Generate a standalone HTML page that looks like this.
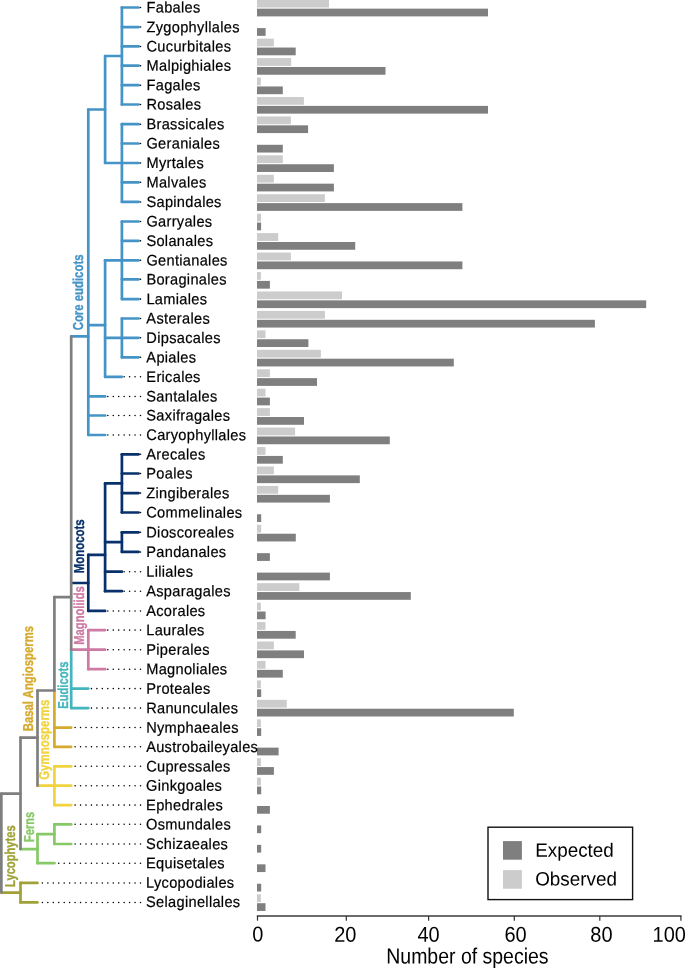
<!DOCTYPE html>
<html><head><meta charset="utf-8"><style>
html,body{margin:0;padding:0;background:#fff;}
svg{display:block;will-change:transform;}
text{font-family:"Liberation Sans",sans-serif;}
</style></head><body>
<svg width="685" height="968" viewBox="0 0 685 968">
<g id="bars">
<rect x="257.0" y="-0.25" width="72.00" height="7.8" fill="#cccccc"/>
<rect x="257.0" y="8.65" width="231.00" height="7.75" fill="#7f7f7f"/>
<rect x="257.0" y="28.10" width="8.60" height="7.75" fill="#7f7f7f"/>
<rect x="257.0" y="38.64" width="16.90" height="7.8" fill="#cccccc"/>
<rect x="257.0" y="47.54" width="38.70" height="7.75" fill="#7f7f7f"/>
<rect x="257.0" y="58.09" width="34.20" height="7.8" fill="#cccccc"/>
<rect x="257.0" y="66.99" width="128.50" height="7.75" fill="#7f7f7f"/>
<rect x="257.0" y="77.54" width="3.80" height="7.8" fill="#cccccc"/>
<rect x="257.0" y="86.44" width="25.80" height="7.75" fill="#7f7f7f"/>
<rect x="257.0" y="96.98" width="46.90" height="7.8" fill="#cccccc"/>
<rect x="257.0" y="105.89" width="231.00" height="7.75" fill="#7f7f7f"/>
<rect x="257.0" y="116.43" width="33.90" height="7.8" fill="#cccccc"/>
<rect x="257.0" y="125.33" width="51.10" height="7.75" fill="#7f7f7f"/>
<rect x="257.0" y="144.78" width="25.80" height="7.75" fill="#7f7f7f"/>
<rect x="257.0" y="155.33" width="25.80" height="7.8" fill="#cccccc"/>
<rect x="257.0" y="164.23" width="76.90" height="7.75" fill="#7f7f7f"/>
<rect x="257.0" y="174.77" width="16.90" height="7.8" fill="#cccccc"/>
<rect x="257.0" y="183.67" width="76.90" height="7.75" fill="#7f7f7f"/>
<rect x="257.0" y="194.22" width="67.90" height="7.8" fill="#cccccc"/>
<rect x="257.0" y="203.12" width="205.40" height="7.75" fill="#7f7f7f"/>
<rect x="257.0" y="213.67" width="4.10" height="7.8" fill="#cccccc"/>
<rect x="257.0" y="222.57" width="4.10" height="7.75" fill="#7f7f7f"/>
<rect x="257.0" y="233.11" width="21.20" height="7.8" fill="#cccccc"/>
<rect x="257.0" y="242.01" width="98.20" height="7.75" fill="#7f7f7f"/>
<rect x="257.0" y="252.56" width="33.90" height="7.8" fill="#cccccc"/>
<rect x="257.0" y="261.46" width="205.40" height="7.75" fill="#7f7f7f"/>
<rect x="257.0" y="272.01" width="3.90" height="7.8" fill="#cccccc"/>
<rect x="257.0" y="280.91" width="12.90" height="7.75" fill="#7f7f7f"/>
<rect x="257.0" y="291.45" width="85.00" height="7.8" fill="#cccccc"/>
<rect x="257.0" y="300.35" width="389.20" height="7.75" fill="#7f7f7f"/>
<rect x="257.0" y="310.90" width="67.90" height="7.8" fill="#cccccc"/>
<rect x="257.0" y="319.80" width="337.90" height="7.75" fill="#7f7f7f"/>
<rect x="257.0" y="330.35" width="8.50" height="7.8" fill="#cccccc"/>
<rect x="257.0" y="339.25" width="51.40" height="7.75" fill="#7f7f7f"/>
<rect x="257.0" y="349.80" width="63.90" height="7.8" fill="#cccccc"/>
<rect x="257.0" y="358.70" width="196.80" height="7.75" fill="#7f7f7f"/>
<rect x="257.0" y="369.24" width="12.90" height="7.8" fill="#cccccc"/>
<rect x="257.0" y="378.14" width="60.00" height="7.75" fill="#7f7f7f"/>
<rect x="257.0" y="388.69" width="8.50" height="7.8" fill="#cccccc"/>
<rect x="257.0" y="397.59" width="12.90" height="7.75" fill="#7f7f7f"/>
<rect x="257.0" y="408.14" width="12.90" height="7.8" fill="#cccccc"/>
<rect x="257.0" y="417.04" width="47.00" height="7.75" fill="#7f7f7f"/>
<rect x="257.0" y="427.58" width="38.10" height="7.8" fill="#cccccc"/>
<rect x="257.0" y="436.48" width="132.80" height="7.75" fill="#7f7f7f"/>
<rect x="257.0" y="447.03" width="8.50" height="7.8" fill="#cccccc"/>
<rect x="257.0" y="455.93" width="25.80" height="7.75" fill="#7f7f7f"/>
<rect x="257.0" y="466.48" width="16.90" height="7.8" fill="#cccccc"/>
<rect x="257.0" y="475.38" width="102.80" height="7.75" fill="#7f7f7f"/>
<rect x="257.0" y="485.92" width="21.20" height="7.8" fill="#cccccc"/>
<rect x="257.0" y="494.82" width="72.90" height="7.75" fill="#7f7f7f"/>
<rect x="257.0" y="514.27" width="4.20" height="7.75" fill="#7f7f7f"/>
<rect x="257.0" y="524.82" width="4.20" height="7.8" fill="#cccccc"/>
<rect x="257.0" y="533.72" width="38.80" height="7.75" fill="#7f7f7f"/>
<rect x="257.0" y="553.17" width="12.90" height="7.75" fill="#7f7f7f"/>
<rect x="257.0" y="572.61" width="72.90" height="7.75" fill="#7f7f7f"/>
<rect x="257.0" y="583.16" width="42.30" height="7.8" fill="#cccccc"/>
<rect x="257.0" y="592.06" width="153.80" height="7.75" fill="#7f7f7f"/>
<rect x="257.0" y="602.61" width="3.90" height="7.8" fill="#cccccc"/>
<rect x="257.0" y="611.51" width="8.60" height="7.75" fill="#7f7f7f"/>
<rect x="257.0" y="622.05" width="8.50" height="7.8" fill="#cccccc"/>
<rect x="257.0" y="630.95" width="38.70" height="7.75" fill="#7f7f7f"/>
<rect x="257.0" y="641.50" width="16.90" height="7.8" fill="#cccccc"/>
<rect x="257.0" y="650.40" width="47.00" height="7.75" fill="#7f7f7f"/>
<rect x="257.0" y="660.95" width="8.50" height="7.8" fill="#cccccc"/>
<rect x="257.0" y="669.85" width="25.80" height="7.75" fill="#7f7f7f"/>
<rect x="257.0" y="680.39" width="3.90" height="7.8" fill="#cccccc"/>
<rect x="257.0" y="689.29" width="4.20" height="7.75" fill="#7f7f7f"/>
<rect x="257.0" y="699.84" width="29.80" height="7.8" fill="#cccccc"/>
<rect x="257.0" y="708.74" width="256.80" height="7.75" fill="#7f7f7f"/>
<rect x="257.0" y="719.29" width="3.90" height="7.8" fill="#cccccc"/>
<rect x="257.0" y="728.19" width="4.20" height="7.75" fill="#7f7f7f"/>
<rect x="257.0" y="747.64" width="21.60" height="7.75" fill="#7f7f7f"/>
<rect x="257.0" y="758.18" width="3.90" height="7.8" fill="#cccccc"/>
<rect x="257.0" y="767.08" width="16.90" height="7.75" fill="#7f7f7f"/>
<rect x="257.0" y="777.63" width="3.90" height="7.8" fill="#cccccc"/>
<rect x="257.0" y="786.53" width="4.20" height="7.75" fill="#7f7f7f"/>
<rect x="257.0" y="805.98" width="12.90" height="7.75" fill="#7f7f7f"/>
<rect x="257.0" y="825.42" width="4.20" height="7.75" fill="#7f7f7f"/>
<rect x="257.0" y="844.87" width="4.20" height="7.75" fill="#7f7f7f"/>
<rect x="257.0" y="864.32" width="8.50" height="7.75" fill="#7f7f7f"/>
<rect x="257.0" y="883.76" width="4.20" height="7.75" fill="#7f7f7f"/>
<rect x="257.0" y="894.31" width="3.90" height="7.8" fill="#cccccc"/>
<rect x="257.0" y="903.21" width="8.50" height="7.75" fill="#7f7f7f"/>
</g>
<g id="tree" stroke-width="2.7" stroke-linecap="round" fill="none">
<line x1="1.35" y1="892.60" x2="20.50" y2="892.60" stroke="#a0a238"/>
<line x1="20.50" y1="882.90" x2="20.50" y2="902.40" stroke="#a0a238"/>
<line x1="20.50" y1="849.10" x2="37.50" y2="849.10" stroke="#86c966"/>
<line x1="37.50" y1="834.15" x2="37.50" y2="863.20" stroke="#86c966"/>
<line x1="37.50" y1="834.15" x2="54.40" y2="834.15" stroke="#86c966"/>
<line x1="54.40" y1="824.30" x2="54.40" y2="844.00" stroke="#86c966"/>
<line x1="37.50" y1="785.70" x2="54.40" y2="785.70" stroke="#f1d33e"/>
<line x1="54.40" y1="766.30" x2="54.40" y2="805.10" stroke="#f1d33e"/>
<line x1="54.40" y1="690.50" x2="54.40" y2="746.80" stroke="#d5aa2e"/>
<line x1="71.20" y1="649.70" x2="71.20" y2="708.10" stroke="#44b5bd"/>
<line x1="71.20" y1="336.40" x2="88.30" y2="336.40" stroke="#4594c8"/>
<line x1="71.20" y1="583.00" x2="88.30" y2="583.00" stroke="#08306b"/>
<line x1="71.20" y1="649.70" x2="88.30" y2="649.70" stroke="#cd7aa4"/>
<line x1="88.30" y1="630.10" x2="88.30" y2="669.20" stroke="#cd7aa4"/>
<line x1="88.30" y1="109.50" x2="88.30" y2="435.00" stroke="#4594c8"/>
<line x1="88.30" y1="109.50" x2="105.10" y2="109.50" stroke="#4594c8"/>
<line x1="88.30" y1="325.10" x2="105.10" y2="325.10" stroke="#4594c8"/>
<line x1="105.10" y1="56.00" x2="105.10" y2="163.00" stroke="#4594c8"/>
<line x1="105.10" y1="56.00" x2="121.90" y2="56.00" stroke="#4594c8"/>
<line x1="105.10" y1="163.00" x2="121.90" y2="163.00" stroke="#4594c8"/>
<line x1="121.90" y1="7.50" x2="121.90" y2="104.50" stroke="#4594c8"/>
<line x1="121.90" y1="124.20" x2="121.90" y2="201.90" stroke="#4594c8"/>
<line x1="105.10" y1="260.30" x2="105.10" y2="376.80" stroke="#4594c8"/>
<line x1="105.10" y1="260.30" x2="121.90" y2="260.30" stroke="#4594c8"/>
<line x1="105.10" y1="337.80" x2="121.90" y2="337.80" stroke="#4594c8"/>
<line x1="121.90" y1="221.50" x2="121.90" y2="299.10" stroke="#4594c8"/>
<line x1="121.90" y1="318.50" x2="121.90" y2="357.30" stroke="#4594c8"/>
<line x1="88.30" y1="554.90" x2="88.30" y2="610.90" stroke="#08306b"/>
<line x1="88.30" y1="554.90" x2="105.10" y2="554.90" stroke="#08306b"/>
<line x1="105.10" y1="483.40" x2="105.10" y2="591.20" stroke="#08306b"/>
<line x1="105.10" y1="483.40" x2="121.90" y2="483.40" stroke="#08306b"/>
<line x1="105.10" y1="542.10" x2="121.90" y2="542.10" stroke="#08306b"/>
<line x1="121.90" y1="454.30" x2="121.90" y2="512.50" stroke="#08306b"/>
<line x1="121.90" y1="532.30" x2="121.90" y2="551.90" stroke="#08306b"/>
<line x1="121.90" y1="7.50" x2="138.60" y2="7.50" stroke="#4594c8"/>
<line x1="121.90" y1="27.05" x2="138.60" y2="27.05" stroke="#4594c8"/>
<line x1="121.90" y1="46.40" x2="138.60" y2="46.40" stroke="#4594c8"/>
<line x1="121.90" y1="65.70" x2="138.60" y2="65.70" stroke="#4594c8"/>
<line x1="121.90" y1="85.20" x2="138.60" y2="85.20" stroke="#4594c8"/>
<line x1="121.90" y1="104.50" x2="138.60" y2="104.50" stroke="#4594c8"/>
<line x1="121.90" y1="124.20" x2="138.60" y2="124.20" stroke="#4594c8"/>
<line x1="121.90" y1="143.50" x2="138.60" y2="143.50" stroke="#4594c8"/>
<line x1="121.90" y1="163.00" x2="138.60" y2="163.00" stroke="#4594c8"/>
<line x1="121.90" y1="182.30" x2="138.60" y2="182.30" stroke="#4594c8"/>
<line x1="121.90" y1="201.90" x2="138.60" y2="201.90" stroke="#4594c8"/>
<line x1="121.90" y1="221.50" x2="138.60" y2="221.50" stroke="#4594c8"/>
<line x1="121.90" y1="240.85" x2="138.60" y2="240.85" stroke="#4594c8"/>
<line x1="121.90" y1="260.30" x2="138.60" y2="260.30" stroke="#4594c8"/>
<line x1="121.90" y1="279.30" x2="138.60" y2="279.30" stroke="#4594c8"/>
<line x1="121.90" y1="299.10" x2="138.60" y2="299.10" stroke="#4594c8"/>
<line x1="121.90" y1="318.50" x2="138.60" y2="318.50" stroke="#4594c8"/>
<line x1="121.90" y1="337.80" x2="138.60" y2="337.80" stroke="#4594c8"/>
<line x1="121.90" y1="357.30" x2="138.60" y2="357.30" stroke="#4594c8"/>
<line x1="105.10" y1="376.80" x2="121.90" y2="376.80" stroke="#4594c8"/>
<line x1="88.30" y1="396.40" x2="105.10" y2="396.40" stroke="#4594c8"/>
<line x1="88.30" y1="415.50" x2="105.10" y2="415.50" stroke="#4594c8"/>
<line x1="88.30" y1="435.00" x2="105.10" y2="435.00" stroke="#4594c8"/>
<line x1="121.90" y1="454.30" x2="138.60" y2="454.30" stroke="#08306b"/>
<line x1="121.90" y1="473.50" x2="138.60" y2="473.50" stroke="#08306b"/>
<line x1="121.90" y1="493.10" x2="138.60" y2="493.10" stroke="#08306b"/>
<line x1="121.90" y1="512.50" x2="138.60" y2="512.50" stroke="#08306b"/>
<line x1="121.90" y1="532.30" x2="138.60" y2="532.30" stroke="#08306b"/>
<line x1="121.90" y1="551.90" x2="138.60" y2="551.90" stroke="#08306b"/>
<line x1="105.10" y1="571.70" x2="121.90" y2="571.70" stroke="#08306b"/>
<line x1="105.10" y1="591.20" x2="121.90" y2="591.20" stroke="#08306b"/>
<line x1="88.30" y1="610.90" x2="105.10" y2="610.90" stroke="#08306b"/>
<line x1="88.30" y1="630.10" x2="105.10" y2="630.10" stroke="#cd7aa4"/>
<line x1="88.30" y1="649.70" x2="105.10" y2="649.70" stroke="#cd7aa4"/>
<line x1="88.30" y1="669.20" x2="105.10" y2="669.20" stroke="#cd7aa4"/>
<line x1="71.20" y1="688.60" x2="88.30" y2="688.60" stroke="#44b5bd"/>
<line x1="71.20" y1="708.10" x2="88.30" y2="708.10" stroke="#44b5bd"/>
<line x1="54.40" y1="727.55" x2="71.20" y2="727.55" stroke="#d5aa2e"/>
<line x1="54.40" y1="746.80" x2="71.20" y2="746.80" stroke="#d5aa2e"/>
<line x1="54.40" y1="766.30" x2="71.20" y2="766.30" stroke="#f1d33e"/>
<line x1="54.40" y1="785.70" x2="71.20" y2="785.70" stroke="#f1d33e"/>
<line x1="54.40" y1="805.10" x2="71.20" y2="805.10" stroke="#f1d33e"/>
<line x1="54.40" y1="824.30" x2="71.20" y2="824.30" stroke="#86c966"/>
<line x1="54.40" y1="844.00" x2="71.20" y2="844.00" stroke="#86c966"/>
<line x1="37.50" y1="863.20" x2="54.40" y2="863.20" stroke="#86c966"/>
<line x1="20.50" y1="882.90" x2="37.50" y2="882.90" stroke="#a0a238"/>
<line x1="20.50" y1="902.40" x2="37.50" y2="902.40" stroke="#a0a238"/>
<line x1="1.35" y1="793.60" x2="1.35" y2="892.60" stroke="#7f7f7f"/>
<line x1="1.35" y1="793.60" x2="20.50" y2="793.60" stroke="#7f7f7f"/>
<line x1="20.50" y1="737.70" x2="20.50" y2="849.10" stroke="#7f7f7f"/>
<line x1="20.50" y1="737.70" x2="37.50" y2="737.70" stroke="#7f7f7f"/>
<line x1="37.50" y1="690.50" x2="37.50" y2="785.70" stroke="#7f7f7f"/>
<line x1="37.50" y1="690.50" x2="54.40" y2="690.50" stroke="#7f7f7f"/>
<line x1="54.40" y1="597.10" x2="54.40" y2="690.50" stroke="#7f7f7f"/>
<line x1="54.40" y1="597.10" x2="71.20" y2="597.10" stroke="#7f7f7f"/>
<line x1="71.20" y1="336.40" x2="71.20" y2="649.70" stroke="#7f7f7f"/>
</g>
<path d="M140.50 7.50h0M140.50 27.05h0M140.50 46.40h0M140.50 65.70h0M140.50 85.20h0M140.50 104.50h0M140.50 124.20h0M140.50 143.50h0M140.50 163.00h0M140.50 182.30h0M140.50 201.90h0M140.50 221.50h0M140.50 240.85h0M140.50 260.30h0M140.50 279.30h0M140.50 299.10h0M140.50 318.50h0M140.50 337.80h0M140.50 357.30h0M140.50 376.80h0M135.05 376.80h0M129.60 376.80h0M124.15 376.80h0M140.50 396.40h0M135.05 396.40h0M129.60 396.40h0M124.15 396.40h0M118.70 396.40h0M113.25 396.40h0M107.80 396.40h0M140.50 415.50h0M135.05 415.50h0M129.60 415.50h0M124.15 415.50h0M118.70 415.50h0M113.25 415.50h0M107.80 415.50h0M140.50 435.00h0M135.05 435.00h0M129.60 435.00h0M124.15 435.00h0M118.70 435.00h0M113.25 435.00h0M107.80 435.00h0M140.50 454.30h0M140.50 473.50h0M140.50 493.10h0M140.50 512.50h0M140.50 532.30h0M140.50 551.90h0M140.50 571.70h0M135.05 571.70h0M129.60 571.70h0M124.15 571.70h0M140.50 591.20h0M135.05 591.20h0M129.60 591.20h0M124.15 591.20h0M140.50 610.90h0M135.05 610.90h0M129.60 610.90h0M124.15 610.90h0M118.70 610.90h0M113.25 610.90h0M107.80 610.90h0M140.50 630.10h0M135.05 630.10h0M129.60 630.10h0M124.15 630.10h0M118.70 630.10h0M113.25 630.10h0M107.80 630.10h0M140.50 649.70h0M135.05 649.70h0M129.60 649.70h0M124.15 649.70h0M118.70 649.70h0M113.25 649.70h0M107.80 649.70h0M140.50 669.20h0M135.05 669.20h0M129.60 669.20h0M124.15 669.20h0M118.70 669.20h0M113.25 669.20h0M107.80 669.20h0M140.50 688.60h0M135.05 688.60h0M129.60 688.60h0M124.15 688.60h0M118.70 688.60h0M113.25 688.60h0M107.80 688.60h0M102.35 688.60h0M96.90 688.60h0M91.45 688.60h0M140.50 708.10h0M135.05 708.10h0M129.60 708.10h0M124.15 708.10h0M118.70 708.10h0M113.25 708.10h0M107.80 708.10h0M102.35 708.10h0M96.90 708.10h0M91.45 708.10h0M140.50 727.55h0M135.05 727.55h0M129.60 727.55h0M124.15 727.55h0M118.70 727.55h0M113.25 727.55h0M107.80 727.55h0M102.35 727.55h0M96.90 727.55h0M91.45 727.55h0M86.00 727.55h0M80.55 727.55h0M75.10 727.55h0M140.50 746.80h0M135.05 746.80h0M129.60 746.80h0M124.15 746.80h0M118.70 746.80h0M113.25 746.80h0M107.80 746.80h0M102.35 746.80h0M96.90 746.80h0M91.45 746.80h0M86.00 746.80h0M80.55 746.80h0M75.10 746.80h0M140.50 766.30h0M135.05 766.30h0M129.60 766.30h0M124.15 766.30h0M118.70 766.30h0M113.25 766.30h0M107.80 766.30h0M102.35 766.30h0M96.90 766.30h0M91.45 766.30h0M86.00 766.30h0M80.55 766.30h0M75.10 766.30h0M140.50 785.70h0M135.05 785.70h0M129.60 785.70h0M124.15 785.70h0M118.70 785.70h0M113.25 785.70h0M107.80 785.70h0M102.35 785.70h0M96.90 785.70h0M91.45 785.70h0M86.00 785.70h0M80.55 785.70h0M75.10 785.70h0M140.50 805.10h0M135.05 805.10h0M129.60 805.10h0M124.15 805.10h0M118.70 805.10h0M113.25 805.10h0M107.80 805.10h0M102.35 805.10h0M96.90 805.10h0M91.45 805.10h0M86.00 805.10h0M80.55 805.10h0M75.10 805.10h0M140.50 824.30h0M135.05 824.30h0M129.60 824.30h0M124.15 824.30h0M118.70 824.30h0M113.25 824.30h0M107.80 824.30h0M102.35 824.30h0M96.90 824.30h0M91.45 824.30h0M86.00 824.30h0M80.55 824.30h0M75.10 824.30h0M140.50 844.00h0M135.05 844.00h0M129.60 844.00h0M124.15 844.00h0M118.70 844.00h0M113.25 844.00h0M107.80 844.00h0M102.35 844.00h0M96.90 844.00h0M91.45 844.00h0M86.00 844.00h0M80.55 844.00h0M75.10 844.00h0M140.50 863.20h0M135.05 863.20h0M129.60 863.20h0M124.15 863.20h0M118.70 863.20h0M113.25 863.20h0M107.80 863.20h0M102.35 863.20h0M96.90 863.20h0M91.45 863.20h0M86.00 863.20h0M80.55 863.20h0M75.10 863.20h0M69.65 863.20h0M64.20 863.20h0M58.75 863.20h0M140.50 882.90h0M135.05 882.90h0M129.60 882.90h0M124.15 882.90h0M118.70 882.90h0M113.25 882.90h0M107.80 882.90h0M102.35 882.90h0M96.90 882.90h0M91.45 882.90h0M86.00 882.90h0M80.55 882.90h0M75.10 882.90h0M69.65 882.90h0M64.20 882.90h0M58.75 882.90h0M53.30 882.90h0M47.85 882.90h0M42.40 882.90h0M140.50 902.40h0M135.05 902.40h0M129.60 902.40h0M124.15 902.40h0M118.70 902.40h0M113.25 902.40h0M107.80 902.40h0M102.35 902.40h0M96.90 902.40h0M91.45 902.40h0M86.00 902.40h0M80.55 902.40h0M75.10 902.40h0M69.65 902.40h0M64.20 902.40h0M58.75 902.40h0M53.30 902.40h0M47.85 902.40h0M42.40 902.40h0" stroke="#000" stroke-width="1.55" stroke-linecap="round" fill="none"/>
<g id="labels" transform="rotate(0.03 146 450)" font-size="15.3" fill="#000" stroke="#000" stroke-width="0.22" letter-spacing="0.33">
<text transform="translate(146.3,12.60) scale(0.954,1)">Fabales</text>
<text transform="translate(146.3,32.15) scale(0.954,1)">Zygophyllales</text>
<text transform="translate(146.3,51.50) scale(0.954,1)">Cucurbitales</text>
<text transform="translate(146.3,70.80) scale(0.954,1)">Malpighiales</text>
<text transform="translate(146.3,90.30) scale(0.954,1)">Fagales</text>
<text transform="translate(146.3,109.60) scale(0.954,1)">Rosales</text>
<text transform="translate(146.3,129.30) scale(0.954,1)">Brassicales</text>
<text transform="translate(146.3,148.60) scale(0.954,1)">Geraniales</text>
<text transform="translate(146.3,168.10) scale(0.954,1)">Myrtales</text>
<text transform="translate(146.3,187.40) scale(0.954,1)">Malvales</text>
<text transform="translate(146.3,207.00) scale(0.954,1)">Sapindales</text>
<text transform="translate(146.3,226.60) scale(0.954,1)">Garryales</text>
<text transform="translate(146.3,245.95) scale(0.954,1)">Solanales</text>
<text transform="translate(146.3,265.40) scale(0.954,1)">Gentianales</text>
<text transform="translate(146.3,284.40) scale(0.954,1)">Boraginales</text>
<text transform="translate(146.3,304.20) scale(0.954,1)">Lamiales</text>
<text transform="translate(146.3,323.60) scale(0.954,1)">Asterales</text>
<text transform="translate(146.3,342.90) scale(0.954,1)">Dipsacales</text>
<text transform="translate(146.3,362.40) scale(0.954,1)">Apiales</text>
<text transform="translate(146.3,381.90) scale(0.954,1)">Ericales</text>
<text transform="translate(146.3,401.50) scale(0.954,1)">Santalales</text>
<text transform="translate(146.3,420.60) scale(0.954,1)">Saxifragales</text>
<text transform="translate(146.3,440.10) scale(0.954,1)">Caryophyllales</text>
<text transform="translate(146.3,459.40) scale(0.954,1)">Arecales</text>
<text transform="translate(146.3,478.60) scale(0.954,1)">Poales</text>
<text transform="translate(146.3,498.20) scale(0.954,1)">Zingiberales</text>
<text transform="translate(146.3,517.60) scale(0.954,1)">Commelinales</text>
<text transform="translate(146.3,537.40) scale(0.954,1)">Dioscoreales</text>
<text transform="translate(146.3,557.00) scale(0.954,1)">Pandanales</text>
<text transform="translate(146.3,576.80) scale(0.954,1)">Liliales</text>
<text transform="translate(146.3,596.30) scale(0.954,1)">Asparagales</text>
<text transform="translate(146.3,616.00) scale(0.954,1)">Acorales</text>
<text transform="translate(146.3,635.20) scale(0.954,1)">Laurales</text>
<text transform="translate(146.3,654.80) scale(0.954,1)">Piperales</text>
<text transform="translate(146.3,674.30) scale(0.954,1)">Magnoliales</text>
<text transform="translate(146.3,693.70) scale(0.954,1)">Proteales</text>
<text transform="translate(146.3,713.20) scale(0.954,1)">Ranunculales</text>
<text transform="translate(146.3,732.65) scale(0.954,1)">Nymphaeales</text>
<text transform="translate(146.3,751.90) scale(0.954,1)">Austrobaileyales</text>
<text transform="translate(146.3,771.40) scale(0.954,1)">Cupressales</text>
<text transform="translate(146.3,790.80) scale(0.954,1)">Ginkgoales</text>
<text transform="translate(146.3,810.20) scale(0.954,1)">Ephedrales</text>
<text transform="translate(146.3,829.40) scale(0.954,1)">Osmundales</text>
<text transform="translate(146.3,849.10) scale(0.954,1)">Schizaeales</text>
<text transform="translate(146.3,868.30) scale(0.954,1)">Equisetales</text>
<text transform="translate(146.3,887.70) scale(0.954,1)">Lycopodiales</text>
<text transform="translate(146.3,906.95) scale(0.954,1)">Selaginellales</text>
</g>
<g id="clades">
<text transform="translate(82.8,330.3) rotate(-89.97)" fill="#4594c8" stroke="#4594c8" stroke-width="0.35" font-size="14.4" font-weight="bold" textLength="75.8" lengthAdjust="spacingAndGlyphs">Core eudicots</text>
<text transform="translate(84.2,573.3) rotate(-89.97)" fill="#08306b" stroke="#08306b" stroke-width="0.35" font-size="14.4" font-weight="bold" textLength="54.0" lengthAdjust="spacingAndGlyphs">Monocots</text>
<text transform="translate(84.4,644.7) rotate(-89.97)" fill="#cd7aa4" stroke="#cd7aa4" stroke-width="0.35" font-size="14.4" font-weight="bold" textLength="58.4" lengthAdjust="spacingAndGlyphs">Magnoliids</text>
<text transform="translate(67.5,708.8) rotate(-89.97)" fill="#44b5bd" stroke="#44b5bd" stroke-width="0.35" font-size="14.4" font-weight="bold" textLength="47.2" lengthAdjust="spacingAndGlyphs">Eudicots</text>
<text transform="translate(33.2,731.2) rotate(-89.97)" fill="#d5aa2e" stroke="#d5aa2e" stroke-width="0.35" font-size="14.4" font-weight="bold" textLength="105.2" lengthAdjust="spacingAndGlyphs">Basal Angiosperms</text>
<text transform="translate(49.0,779.8) rotate(-89.97)" fill="#f1d33e" stroke="#f1d33e" stroke-width="0.35" font-size="14.4" font-weight="bold" textLength="80.2" lengthAdjust="spacingAndGlyphs">Gymnosperms</text>
<text transform="translate(34.0,841.9) rotate(-89.97)" fill="#86c966" stroke="#86c966" stroke-width="0.35" font-size="14.4" font-weight="bold" textLength="30.0" lengthAdjust="spacingAndGlyphs">Ferns</text>
<text transform="translate(14.5,887.0) rotate(-89.97)" fill="#a0a238" stroke="#a0a238" stroke-width="0.35" font-size="14.4" font-weight="bold" textLength="61.7" lengthAdjust="spacingAndGlyphs">Lycophytes</text>
</g>
<g id="axislines">
<line x1="256.8" y1="915.9" x2="681.6" y2="915.9" stroke="#3a3a3a" stroke-width="1.5"/>
<line x1="257.5" y1="915.9" x2="257.5" y2="920.7" stroke="#333" stroke-width="1.2"/>
<line x1="346.3" y1="915.9" x2="346.3" y2="920.7" stroke="#333" stroke-width="1.2"/>
<line x1="428.6" y1="915.9" x2="428.6" y2="920.7" stroke="#333" stroke-width="1.2"/>
<line x1="514.3" y1="915.9" x2="514.3" y2="920.7" stroke="#333" stroke-width="1.2"/>
<line x1="599.8" y1="915.9" x2="599.8" y2="920.7" stroke="#333" stroke-width="1.2"/>
<line x1="680.9" y1="915.9" x2="680.9" y2="920.7" stroke="#333" stroke-width="1.2"/>
</g>
<g id="axistext" fill="#000" transform="rotate(0.03 470 940)">
<text transform="translate(257.85,941.7) scale(0.93,1)" text-anchor="middle" font-size="21.5">0</text>
<text transform="translate(345.3,941.7) scale(0.93,1)" text-anchor="middle" font-size="21.5">20</text>
<text transform="translate(428.5,941.7) scale(0.93,1)" text-anchor="middle" font-size="21.5">40</text>
<text transform="translate(515.6,941.7) scale(0.93,1)" text-anchor="middle" font-size="21.5">60</text>
<text transform="translate(601.4,941.7) scale(0.93,1)" text-anchor="middle" font-size="21.5">80</text>
<text transform="translate(669.2,941.7) scale(0.93,1)" text-anchor="middle" font-size="21.5">100</text>
<text transform="translate(467.4,963.5) scale(0.885,1)" text-anchor="middle" font-size="22">Number of species</text>
</g>
<g id="legendboxes">
<rect x="488.0" y="827.2" width="144.6" height="72.4" fill="none" stroke="#111" stroke-width="1.4"/>
<rect x="503" y="841.1" width="18.9" height="18.6" fill="#7f7f7f"/>
<rect x="503" y="870.1" width="18.9" height="18.6" fill="#cccccc"/>
</g>
<g id="legendtext" transform="rotate(0.03 560 865)">
<text transform="translate(535.2,856.7) scale(0.972,1)" font-size="19.4">Expected</text>
<text transform="translate(535.2,885.5) scale(0.972,1)" font-size="19.4">Observed</text>
</g>
</svg>
</body></html>
